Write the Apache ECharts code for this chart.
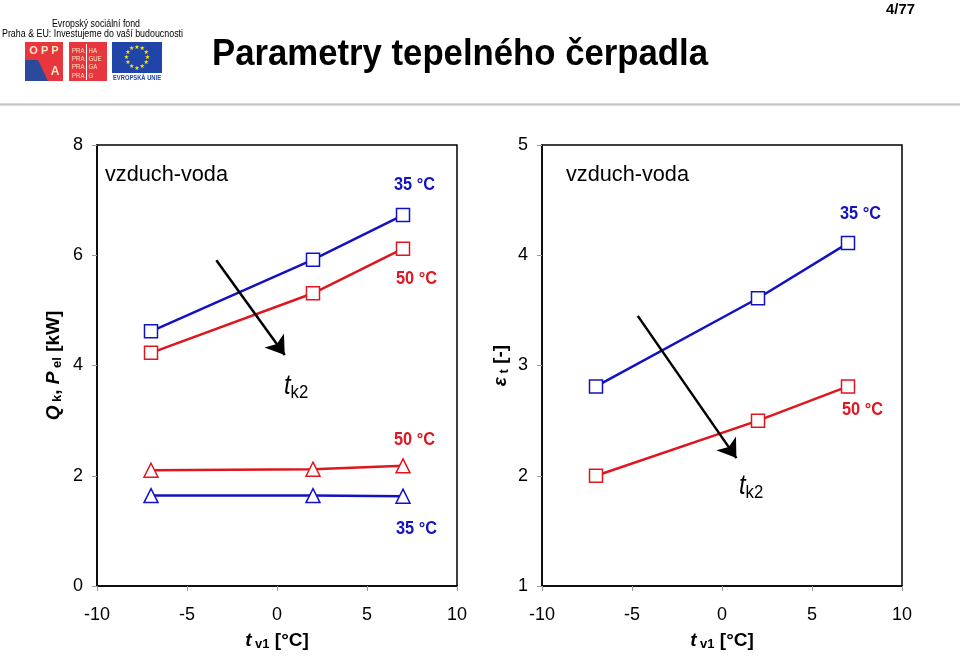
<!DOCTYPE html>
<html><head><meta charset="utf-8">
<script src="https://cdn.jsdelivr.net/npm/echarts@6/dist/echarts.min.js"></script>
<style>html,body{margin:0;padding:0;background:#fff}#c{width:960px;height:656px}</style>
</head><body><div id="c"></div>
<script>
// ---- data ----
const tv1 = [-7, 2, 7];
const qk35 = [4.62, 5.92, 6.73];
const qk50 = [4.23, 5.31, 6.12];
const pel50 = [2.10, 2.12, 2.18];
const pel35 = [1.64, 1.64, 1.63];
const cop35 = [2.81, 3.61, 4.11];
const cop50 = [2.00, 2.50, 2.81];
const xTicks = [-10, -5, 0, 5, 10];
const arrowLeft = [[-3.37, 5.91], [0.43, 4.19]];
const arrowRight = [[-4.68, 3.45], [0.80, 2.16]];

const BLUE = '#1212c4', RED = '#e0161e';
const SANS = '"Liberation Sans",Arial,sans-serif';

const mctx = document.createElement('canvas').getContext('2d');
function fitScale(text, font, target) { mctx.font = font; return target / mctx.measureText(text).width; }

const chart = echarts.init(document.getElementById('c'));
const pts = ys => tv1.map((x, i) => [x, ys[i]]);

const nameRich = {
  i: { fontFamily: SANS, fontSize: 19, fontWeight: 'bold', fontStyle: 'italic', color: '#000' },
  s: { fontFamily: SANS, fontSize: 13, fontWeight: 'bold', color: '#000', padding: [7, 0, 0, 0] },
  n: { fontFamily: SANS, fontSize: 19, fontWeight: 'bold', color: '#000' }
};

function xAxis(gi) {
  return {
    gridIndex: gi, type: 'value', min: -10, max: 10, interval: 5,
    axisLine: { show: true, onZero: false, lineStyle: { color: '#000', width: 1.5 } },
    axisTick: { show: true, inside: false, length: 5, lineStyle: { color: '#999' } },
    axisLabel: { fontFamily: SANS, fontSize: 18, color: '#000', margin: 20,
      formatter: v => xTicks.indexOf(v) >= 0 ? String(v) : '' },
    splitLine: { show: false },
    name: '{i|t}{s| v1}{n| [°C]}', nameLocation: 'middle', nameGap: 45,
    nameTextStyle: { rich: nameRich }
  };
}
function yAxis(gi, min, max, name, gap) {
  return {
    gridIndex: gi, type: 'value', min: min, max: max, interval: gi === 0 ? 2 : 1,
    axisLine: { show: true, onZero: false, lineStyle: { color: '#000', width: 1.5 } },
    axisTick: { show: true, inside: false, length: 5, lineStyle: { color: '#999' } },
    axisLabel: { fontFamily: SANS, fontSize: 18, color: '#000', margin: 14 },
    splitLine: { show: false },
    name: name, nameLocation: 'middle', nameGap: gap, nameRotate: 90,
    nameTextStyle: { rich: nameRich }
  };
}
function lineSeries(xi, data, color, symbol) {
  return {
    type: 'line', xAxisIndex: xi, yAxisIndex: xi, data: pts(data),
    symbol: symbol, symbolSize: symbol === 'rect' ? 13 : 14,
    lineStyle: { color: color, width: 2.5 },
    itemStyle: { color: '#fff', borderColor: color, borderWidth: 1.5 },
    z: 3, animation: false
  };
}
function arrowSeries(xi, seg) {
  return {
    type: 'lines', coordinateSystem: 'cartesian2d', xAxisIndex: xi, yAxisIndex: xi,
    data: [{ coords: seg }], symbol: ['none', 'arrow'], symbolSize: 18,
    lineStyle: { color: '#000', width: 2.5, opacity: 1 }, z: 4, animation: false
  };
}
// text fitted to a target width (emulates the narrow face of the original)
function ftxt(x, y, text, color, font, width, align) {
  return { type: 'text', x: x, y: y, scaleX: fitScale(text, font, width),
    style: { text: text, fill: color, font: font, textAlign: align || 'left', textVerticalAlign: 'middle' } };
}
function tk2(x, y) {
  return {
    type: 'text', x: x, y: y, scaleX: 0.88,
    style: {
      text: '{i|t}{s|k2}', textVerticalAlign: 'middle',
      rich: {
        i: { fontFamily: SANS, fontSize: 27, fontStyle: 'italic', color: '#000' },
        s: { fontFamily: SANS, fontSize: 19, color: '#000', padding: [13, 0, 0, 0] }
      }
    }
  };
}

// EU stars
const stars = [];
for (let k = 0; k < 12; k++) {
  const a = k * Math.PI / 6;
  stars.push({ type: 'text', x: 137 + 10.5 * Math.cos(a), y: 57.5 + 10.5 * Math.sin(a),
    style: { text: '★', fill: '#ffe400', font: '6px "DejaVu Sans",sans-serif', textAlign: 'center', textVerticalAlign: 'middle' } });
}
const CREAM = '#fde6c4';
const praha = [['PRA', 'HA'], ['PRA', 'GUE'], ['PRA', 'GA'], ['PRA', 'G']];
const PFONT = '8px ' + SANS;
const pScale = fitScale('PRA', PFONT, 12.5);
const prahaTxt = [];
praha.forEach((r, k) => {
  const yy = 50.5 + k * 8.3;
  prahaTxt.push({ type: 'text', x: 72, y: yy, scaleX: pScale, style: { text: r[0], fill: CREAM, font: PFONT, textVerticalAlign: 'middle' } });
  prahaTxt.push({ type: 'text', x: 88.5, y: yy, scaleX: pScale, style: { text: r[1], fill: CREAM, font: PFONT, textVerticalAlign: 'middle' } });
});

const option = {
  animation: false,
  backgroundColor: '#fff',
  grid: [
    { left: 97, top: 145, width: 360, height: 445, show: true, borderColor: '#000', borderWidth: 1.5, backgroundColor: 'transparent' },
    { left: 542, top: 145, width: 360, height: 445, show: true, borderColor: '#000', borderWidth: 1.5, backgroundColor: 'transparent' }
  ],
  xAxis: [xAxis(0), xAxis(1)],
  yAxis: [
    yAxis(0, 0, 8, '{i|Q}{s| k}{n|, }{i|P}{s| el}{n| [kW]}', 33),
    yAxis(1, 1, 5, '{i|ε}{s| t}{n| [-]}', 31)
  ],
  series: [
    lineSeries(0, qk35, BLUE, 'rect'),
    lineSeries(0, qk50, RED, 'rect'),
    lineSeries(0, pel50, RED, 'triangle'),
    lineSeries(0, pel35, BLUE, 'triangle'),
    lineSeries(1, cop35, BLUE, 'rect'),
    lineSeries(1, cop50, RED, 'rect'),
    arrowSeries(0, arrowLeft),
    arrowSeries(1, arrowRight)
  ],
  graphic: [
    // header
    ftxt(212, 55, 'Parametry tepelného čerpadla', '#000', 'bold 37px ' + SANS, 496),
    ftxt(915, 10, '4/77', '#000', 'bold 15px ' + SANS, 29, 'right'),
    { type: 'rect', shape: { x: 0, y: 103, width: 960, height: 3 }, style: { fill: new echarts.graphic.LinearGradient(0, 0, 0, 1, [{ offset: 0, color: '#e4e4e4' }, { offset: 0.5, color: '#c4c4c4' }, { offset: 1, color: '#ececec' }]) } },
    ftxt(96, 24, 'Evropský sociální fond', '#000', '10px ' + SANS, 88, 'center'),
    ftxt(92.5, 34.5, 'Praha & EU: Investujeme do vaší budoucnosti', '#000', '10px ' + SANS, 181, 'center'),
    { type: 'rect', shape: { x: 25, y: 42, width: 38, height: 39 }, style: { fill: '#e7363d' } },
    { type: 'polygon', shape: { points: [[25, 60], [38, 60], [48, 81], [25, 81]] }, style: { fill: '#2c4a9a' } },
    { type: 'text', x: 44, y: 51, style: { text: 'O P P', fill: CREAM, font: 'bold 11px ' + SANS, textAlign: 'center', textVerticalAlign: 'middle' } },
    { type: 'text', x: 55, y: 72, style: { text: 'A', fill: CREAM, font: 'bold 12px ' + SANS, textAlign: 'center', textVerticalAlign: 'middle' } },
    { type: 'rect', shape: { x: 69, y: 42, width: 38, height: 39 }, style: { fill: '#e7363d' } },
    { type: 'line', shape: { x1: 86.5, y1: 44, x2: 86.5, y2: 80 }, style: { stroke: '#fff', lineWidth: 1 } },
    ...prahaTxt,
    { type: 'rect', shape: { x: 112, y: 42, width: 50, height: 31 }, style: { fill: '#1f45a8' } },
    ...stars,
    ftxt(137, 78, 'EVROPSKÁ UNIE', '#1f45a8', 'bold 7px ' + SANS, 48, 'center'),
    // chart annotations
    ftxt(105, 175, 'vzduch-voda', '#000', '22px ' + SANS, 123),
    ftxt(566, 175, 'vzduch-voda', '#000', '22px ' + SANS, 123),
    ftxt(394, 185, '35 °C', BLUE, 'bold 19px ' + SANS, 41),
    ftxt(396, 279, '50 °C', RED, 'bold 19px ' + SANS, 41),
    ftxt(394, 440, '50 °C', RED, 'bold 19px ' + SANS, 41),
    ftxt(396, 529, '35 °C', BLUE, 'bold 19px ' + SANS, 41),
    ftxt(840, 214, '35 °C', BLUE, 'bold 19px ' + SANS, 41),
    ftxt(842, 410, '50 °C', RED, 'bold 19px ' + SANS, 41),
    tk2(284, 386),
    tk2(739, 486)
  ]
};
chart.setOption(option);
</script></body></html>
